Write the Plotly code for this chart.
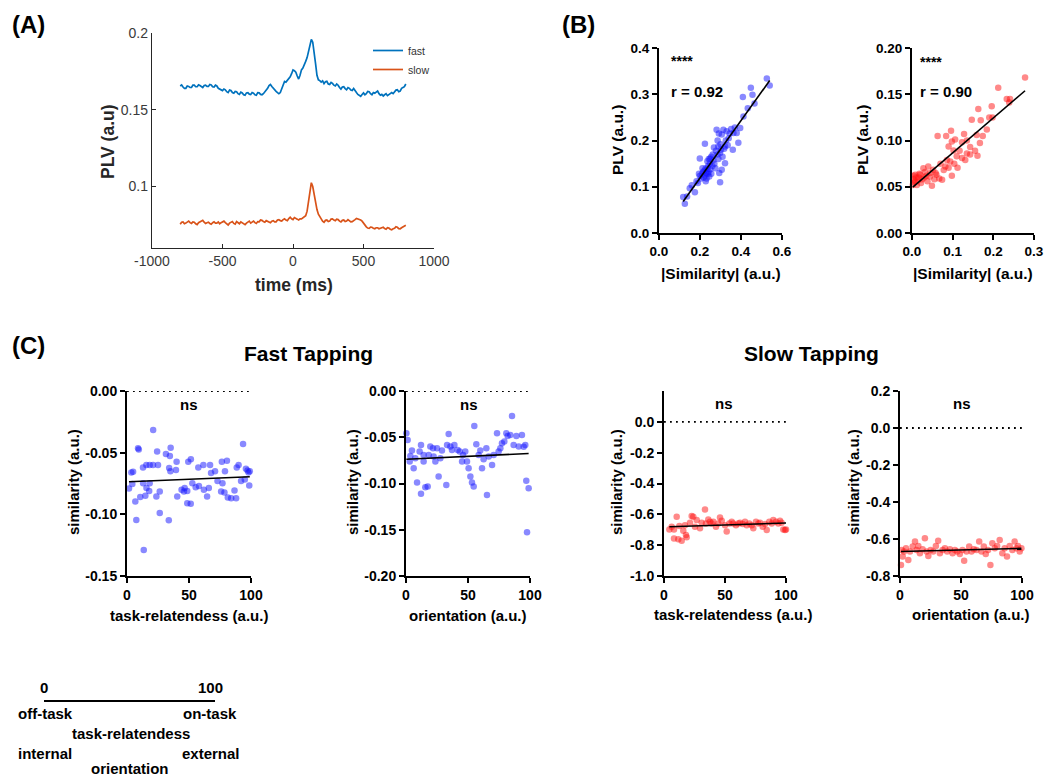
import numpy as np
import plotly.graph_objects as go

W, H = 1046, 776
FONT = "Liberation Sans, Arial, Helvetica, sans-serif"

# ---------------- DATA ----------------
# (A) PLV time courses (10 ms steps, -800 .. 800 ms)
time_ms = list(range(-800, 801, 10))
plv_fast_ts = [
    0.1655, 0.1662, 0.1648, 0.1640, 0.1640, 0.1655, 0.1652, 0.1645, 0.1645, 0.1660,
    0.1660, 0.1650, 0.1650, 0.1662, 0.1658, 0.1648, 0.1645, 0.1658, 0.1660, 0.1652,
    0.1652, 0.1665, 0.1662, 0.1650, 0.1648, 0.1660, 0.1655, 0.1640, 0.1635, 0.1628,
    0.1625, 0.1635, 0.1630, 0.1618, 0.1612, 0.1628, 0.1625, 0.1612, 0.1608, 0.1620,
    0.1618, 0.1605, 0.1600, 0.1615, 0.1610, 0.1598, 0.1595, 0.1610, 0.1612, 0.1602,
    0.1600, 0.1612, 0.1608, 0.1598, 0.1595, 0.1612, 0.1610, 0.1600, 0.1598, 0.1605,
    0.1615, 0.1630, 0.1640, 0.1658, 0.1665, 0.1652, 0.1640, 0.1628, 0.1620, 0.1612,
    0.1605, 0.1612, 0.1640, 0.1668, 0.1685, 0.1680, 0.1690, 0.1702, 0.1715, 0.1735,
    0.1760, 0.1755, 0.1745, 0.1720, 0.1700, 0.1725, 0.1760, 0.1772, 0.1800, 0.1815,
    0.1840, 0.1875, 0.1925, 0.1958, 0.1940, 0.1880, 0.1800, 0.1725, 0.1695, 0.1690,
    0.1680, 0.1688, 0.1670, 0.1682, 0.1685, 0.1668, 0.1665, 0.1678, 0.1672, 0.1660,
    0.1655, 0.1668, 0.1660, 0.1645, 0.1635, 0.1648, 0.1650, 0.1638, 0.1630, 0.1645,
    0.1640, 0.1628, 0.1625, 0.1638, 0.1628, 0.1612, 0.1600, 0.1592, 0.1588, 0.1600,
    0.1610, 0.1598, 0.1605, 0.1620, 0.1618, 0.1605, 0.1598, 0.1612, 0.1608, 0.1615,
    0.1622, 0.1605, 0.1595, 0.1600, 0.1590, 0.1598, 0.1605, 0.1592, 0.1598, 0.1608,
    0.1612, 0.1605, 0.1620, 0.1628, 0.1630, 0.1618, 0.1622, 0.1640, 0.1645, 0.1650,
    0.1668]
plv_slow_ts = [
    0.0755, 0.0768, 0.0770, 0.0758, 0.0762, 0.0772, 0.0775, 0.0765, 0.0760, 0.0770,
    0.0768, 0.0758, 0.0752, 0.0765, 0.0772, 0.0778, 0.0780, 0.0768, 0.0760, 0.0765,
    0.0768, 0.0760, 0.0755, 0.0765, 0.0770, 0.0762, 0.0762, 0.0770, 0.0758, 0.0765,
    0.0770, 0.0775, 0.0765, 0.0758, 0.0750, 0.0762, 0.0768, 0.0772, 0.0760, 0.0755,
    0.0772, 0.0765, 0.0758, 0.0770, 0.0765, 0.0758, 0.0752, 0.0762, 0.0768, 0.0775,
    0.0762, 0.0770, 0.0775, 0.0765, 0.0760, 0.0772, 0.0770, 0.0782, 0.0780, 0.0772,
    0.0768, 0.0778, 0.0775, 0.0768, 0.0765, 0.0775, 0.0778, 0.0770, 0.0770, 0.0782,
    0.0785, 0.0778, 0.0775, 0.0785, 0.0790, 0.0782, 0.0778, 0.0792, 0.0800, 0.0790,
    0.0785, 0.0798, 0.0795, 0.0788, 0.0782, 0.0790, 0.0790, 0.0798, 0.0800, 0.0810,
    0.0840, 0.0905, 0.0985, 0.1025, 0.1000, 0.0940, 0.0890, 0.0850, 0.0820, 0.0800,
    0.0790, 0.0775, 0.0768, 0.0780, 0.0782, 0.0772, 0.0775, 0.0788, 0.0790, 0.0782,
    0.0778, 0.0788, 0.0785, 0.0775, 0.0770, 0.0780, 0.0782, 0.0772, 0.0775, 0.0785,
    0.0780, 0.0770, 0.0772, 0.0782, 0.0785, 0.0792, 0.0790, 0.0788, 0.0782, 0.0775,
    0.0760, 0.0745, 0.0738, 0.0730, 0.0728, 0.0736, 0.0735, 0.0728, 0.0725, 0.0732,
    0.0732, 0.0725, 0.0728, 0.0736, 0.0735, 0.0726, 0.0722, 0.0732, 0.0730, 0.0722,
    0.0718, 0.0725, 0.0728, 0.0738, 0.0735, 0.0726, 0.0725, 0.0732, 0.0738, 0.0742,
    0.0748]

# (B) |similarity| vs PLV
sim_fast = [0.118, 0.126, 0.137, 0.150, 0.175, 0.183, 0.199, 0.224, 0.199, 0.205, 0.210, 0.215,
            0.218, 0.222, 0.225, 0.228, 0.230, 0.232, 0.235, 0.238, 0.240, 0.242, 0.245, 0.248,
            0.250, 0.255, 0.249, 0.260, 0.265, 0.270, 0.275, 0.281, 0.285, 0.289, 0.294, 0.298,
            0.298, 0.300, 0.302, 0.306, 0.306, 0.310, 0.314, 0.318, 0.322, 0.322, 0.326, 0.330,
            0.335, 0.340, 0.363, 0.379, 0.360, 0.387, 0.396, 0.409, 0.412, 0.433, 0.448, 0.456,
            0.466, 0.526, 0.540, 0.212, 0.228, 0.236, 0.262, 0.278, 0.290, 0.345, 0.352, 0.370,
            0.160, 0.190, 0.195, 0.243, 0.268, 0.286, 0.292, 0.255]
plv_fast = [0.078, 0.063, 0.079, 0.097, 0.088, 0.112, 0.161, 0.193, 0.123, 0.118, 0.128, 0.132,
            0.120, 0.135, 0.125, 0.140, 0.130, 0.118, 0.138, 0.128, 0.145, 0.132, 0.122, 0.150,
            0.138, 0.128, 0.161, 0.145, 0.158, 0.150, 0.140, 0.223, 0.170, 0.187, 0.130, 0.110,
            0.173, 0.192, 0.180, 0.213, 0.137, 0.165, 0.223, 0.182, 0.187, 0.151, 0.200, 0.220,
            0.190, 0.205, 0.216, 0.216, 0.180, 0.195, 0.227, 0.294, 0.252, 0.270, 0.314, 0.299,
            0.280, 0.334, 0.319, 0.140, 0.112, 0.155, 0.170, 0.178, 0.160, 0.215, 0.225, 0.228,
            0.103, 0.108, 0.128, 0.160, 0.185, 0.200, 0.215, 0.165]

sim_slow = [0.278, 0.212, 0.241, 0.239, 0.233, 0.163, 0.196, 0.190, 0.147, 0.063, 0.084, 0.096,
            0.128, 0.159, 0.174, 0.167, 0.143, 0.161, 0.135, 0.123, 0.098, 0.090, 0.102, 0.117,
            0.123, 0.131, 0.110, 0.094, 0.082, 0.090, 0.098, 0.074, 0.067, 0.052, 0.045, 0.035,
            0.028, 0.049, 0.020, 0.008, 0.004, 0.012, 0.022, 0.038, 0.055, 0.058, 0.040, 0.016,
            0.008, 0.025, 0.004, 0.002, 0.070, 0.078, 0.086, 0.104, 0.112, 0.135, 0.143, 0.155,
            0.106, 0.169, 0.184, 0.198, 0.010, 0.015, 0.030, 0.032, 0.044, 0.060, 0.006, 0.018]
plv_slow = [0.168, 0.157, 0.145, 0.141, 0.145, 0.134, 0.137, 0.125, 0.1225, 0.105, 0.105, 0.1106,
            0.107, 0.106, 0.105, 0.0973, 0.093, 0.0836, 0.100, 0.098, 0.099, 0.0936, 0.0893, 0.089,
            0.081, 0.079, 0.083, 0.0774, 0.072, 0.0705, 0.062, 0.0576, 0.059, 0.0684, 0.065, 0.062,
            0.070, 0.051, 0.063, 0.063, 0.058, 0.052, 0.054, 0.056, 0.058, 0.065, 0.072, 0.060,
            0.056, 0.058, 0.062, 0.052, 0.075, 0.068, 0.079, 0.075, 0.0705, 0.086, 0.085, 0.089,
            0.101, 0.122, 0.112, 0.125, 0.060, 0.057, 0.060, 0.066, 0.061, 0.063, 0.055, 0.064]

# (C) Fast tapping
fast_task = [1.6, 3.5, 21.1, 8.9, 9.5, 24.3, 31.4, 34.6, 35.2, 40.0, 93.6, 4.9, 12.9, 15.6, 18.3,
             21.0, 25.0, 34.0, 35.0, 39.5, 49.4, 51.5, 57.5, 61.6, 67.0, 76.5, 80.6, 67.8, 71.0,
             79.0, 88.5, 90.0, 95.9, 97.2, 98.6, 4.3, 13.0, 15.7, 17.9, 18.3, 23.7, 26.4, 6.7,
             10.7, 14.8, 7.5, 26.4, 33.7, 13.5, 40.5, 45.9, 48.6, 44.0, 46.5, 48.6, 51.4, 52.7,
             55.4, 58.0, 62.0, 66.0, 73.0, 77.0, 75.9, 78.6, 81.3, 84.0, 88.0, 86.7, 92.0, 95.0,
             64.6, 98.0, 99.0]
fast_task_sim = [-0.079, -0.066, -0.0316, -0.0465, -0.0475, -0.049, -0.051, -0.0527, -0.046, -0.0573,
                 -0.043, -0.0654, -0.062, -0.060, -0.060, -0.060, -0.060, -0.0625, -0.065, -0.064,
                 -0.0573, -0.0554, -0.062, -0.060, -0.060, -0.0573, -0.0565, -0.0664, -0.065, -0.065,
                 -0.062, -0.060, -0.063, -0.0645, -0.0766, -0.0755, -0.0747, -0.0786, -0.081, -0.0747,
                 -0.0855, -0.0815, -0.0896, -0.086, -0.085, -0.1045, -0.099, -0.1048, -0.129, -0.0855,
                 -0.0815, -0.081, -0.080, -0.0786, -0.091, -0.0915, -0.0747, -0.078, -0.077, -0.080,
                 -0.0786, -0.073, -0.0747, -0.0815, -0.0823, -0.0864, -0.087, -0.087, -0.0807, -0.073,
                 -0.0718, -0.0855, -0.066, -0.065]

fast_orient = [0.3, 1.3, 4.8, 3.5, 3.0, 6.2, 12.1, 11.0, 7.5, 14.2, 8.9, 12.1, 15.6, 17.5, 14.2,
               19.6, 18.3, 21.8, 22.3, 23.7, 25.0, 27.7, 26.3, 29.0, 32.5, 34.4, 33.1, 35.8, 39.0,
               37.1, 41.7, 43.3, 45.2, 46.0, 47.8, 49.2, 50.5, 51.9, 53.2, 54.6, 55.1, 56.7, 58.6,
               59.9, 61.3, 62.6, 65.3, 64.8, 66.7, 69.4, 70.7, 73.4, 74.7, 76.1, 77.4, 79.3, 80.9,
               82.0, 84.1, 85.5, 86.8, 89.0, 90.9, 93.5, 94.9, 96.2, 97.0, 98.9, 97.6]
fast_orient_sim = [-0.0457, -0.0529, -0.0644, -0.0702, -0.0763, -0.0835, -0.0583, -0.0655, -0.0727,
                   -0.0691, -0.099, -0.1112, -0.104, -0.1033, -0.0763, -0.0601, -0.0691, -0.0619,
                   -0.0709, -0.0763, -0.0619, -0.0727, -0.0925, -0.0644, -0.1015, -0.0464, -0.0583,
                   -0.0601, -0.0583, -0.0637, -0.0637, -0.0655, -0.0763, -0.0691, -0.0655, -0.0763,
                   -0.0835, -0.0925, -0.099, -0.1033, -0.0378, -0.0576, -0.0691, -0.0644, -0.0835,
                   -0.0738, -0.1123, -0.0619, -0.0709, -0.0799, -0.0691, -0.0457, -0.0655, -0.0619,
                   -0.0565, -0.0547, -0.0457, -0.0486, -0.0475, -0.027, -0.0583, -0.0486, -0.0601,
                   -0.0476, -0.0602, -0.0584, -0.097, -0.105, -0.1528]

# (C) Slow tapping
slow_task = [4.4, 6.3, 8.2, 8.2, 10.4, 11.7, 14.5, 12.6, 15.8, 17.2, 18.0, 18.6, 21.3, 22.7, 24.0,
             25.4, 26.8, 29.5, 30.9, 33.6, 34.4, 36.3, 37.7, 39.1, 40.4, 42.6, 44.5, 45.9, 47.3,
             50.0, 51.4, 53.6, 55.5, 56.8, 59.0, 60.9, 62.3, 64.5, 66.4, 67.8, 69.9, 71.9, 73.2,
             75.4, 77.3, 78.7, 80.9, 82.8, 84.2, 86.3, 88.3, 89.6, 91.8, 93.7, 95.1, 96.4, 97.8,
             99.2, 100.0]
slow_task_sim = [-0.698, -0.680, -0.698, -0.756, -0.616, -0.762, -0.771, -0.676, -0.706, -0.670,
                 -0.734, -0.749, -0.654, -0.611, -0.616, -0.680, -0.637, -0.691, -0.654, -0.568,
                 -0.659, -0.633, -0.648, -0.659, -0.648, -0.680, -0.659, -0.620, -0.641, -0.670,
                 -0.711, -0.659, -0.648, -0.659, -0.670, -0.659, -0.654, -0.663, -0.648, -0.670,
                 -0.659, -0.670, -0.691, -0.648, -0.659, -0.654, -0.680, -0.663, -0.702, -0.648,
                 -0.659, -0.637, -0.648, -0.659, -0.641, -0.654, -0.698, -0.702, -0.698]

slow_orient = [0.8, 2.2, 1.4, 3.3, 4.9, 6.8, 8.2, 10.4, 12.3, 13.6, 15.0, 16.3, 18.5, 20.4, 21.8,
               23.2, 25.1, 27.2, 29.4, 31.3, 32.7, 34.9, 36.8, 38.7, 40.9, 43.1, 45.0, 46.9, 49.0,
               51.2, 52.6, 54.5, 56.7, 58.6, 60.5, 62.7, 64.9, 66.8, 68.7, 70.3, 72.2, 74.1, 75.7,
               77.7, 79.6, 81.7, 83.9, 85.8, 87.7, 89.9, 92.1, 94.0, 95.4, 96.7, 98.1, 99.5]
slow_orient_sim = [-0.741, -0.695, -0.659, -0.668, -0.650, -0.714, -0.668, -0.641, -0.614, -0.659,
                   -0.638, -0.677, -0.656, -0.596, -0.668, -0.692, -0.659, -0.668, -0.638, -0.609,
                   -0.677, -0.659, -0.650, -0.668, -0.656, -0.677, -0.659, -0.668, -0.681, -0.659,
                   -0.717, -0.668, -0.641, -0.668, -0.656, -0.659, -0.614, -0.668, -0.641, -0.681,
                   -0.659, -0.741, -0.623, -0.650, -0.638, -0.605, -0.677, -0.650, -0.695, -0.638,
                   -0.659, -0.614, -0.650, -0.638, -0.668, -0.650]

# tick labels
A_xticks = [-1000, -500, 0, 500, 1000]
A_xlabels = ["-1000", "-500", "0", "500", "1000"]
A_yticks = [0.1, 0.15, 0.2]
A_ylabels = ["0.1", "0.15", "0.2"]
B1_xticks = [0, 0.2, 0.4, 0.6]
B1_xlabels = ["0.0", "0.2", "0.4", "0.6"]
B1_yticks = [0, 0.1, 0.2, 0.3, 0.4]
B1_ylabels = ["0.0", "0.1", "0.2", "0.3", "0.4"]
B2_xticks = [0, 0.1, 0.2, 0.3]
B2_xlabels = ["0.0", "0.1", "0.2", "0.3"]
B2_yticks = [0, 0.05, 0.1, 0.15, 0.2]
B2_ylabels = ["0.00", "0.05", "0.10", "0.15", "0.20"]
C_xticks = [0, 50, 100]
C_xlabels = ["0", "50", "100"]
C1_yticks = [0, -0.05, -0.1, -0.15]
C1_ylabels = ["0.00", "-0.05", "-0.10", "-0.15"]
C2_yticks = [0, -0.05, -0.1, -0.15, -0.2]
C2_ylabels = ["0.00", "-0.05", "-0.10", "-0.15", "-0.20"]
C3_yticks = [0, -0.2, -0.4, -0.6, -0.8, -1.0]
C3_ylabels = ["0.0", "-0.2", "-0.4", "-0.6", "-0.8", "-1.0"]
C4_yticks = [0.2, 0, -0.2, -0.4, -0.6, -0.8]
C4_ylabels = ["0.2", "0.0", "-0.2", "-0.4", "-0.6", "-0.8"]

assert len(time_ms) == len(plv_fast_ts) == len(plv_slow_ts)

# ---------------- FIGURE ----------------
BLUE_M = "rgba(20,20,255,0.5)"
RED_M = "rgba(255,20,20,0.5)"


def px_x(a):
    return a / W


def px_y(b):
    return 1 - b / H


def xd(a, b):
    return [a / W, b / W]


def yd(top, bottom):
    return [1 - bottom / H, 1 - top / H]


fig = go.Figure()

# (A)
fig.add_trace(go.Scatter(x=time_ms, y=plv_fast_ts, mode="lines", name="fast",
                         line=dict(color="#0072BD", width=1.7), xaxis="x", yaxis="y"))
fig.add_trace(go.Scatter(x=time_ms, y=plv_slow_ts, mode="lines", name="slow",
                         line=dict(color="#D95319", width=1.7), xaxis="x", yaxis="y"))


def scatter_fit(x, y, color, xa, ya):
    fig.add_trace(go.Scatter(x=x, y=y, mode="markers", showlegend=False, cliponaxis=False,
                             marker=dict(color=color, size=6.5, line=dict(width=0)),
                             xaxis=xa, yaxis=ya))
    k, b = np.polyfit(x, y, 1)
    x0, x1 = min(x), max(x)
    fig.add_trace(go.Scatter(x=[x0, x1], y=[k * x0 + b, k * x1 + b], mode="lines",
                             showlegend=False, cliponaxis=False,
                             line=dict(color="black", width=1.6), xaxis=xa, yaxis=ya))


scatter_fit(sim_fast, plv_fast, BLUE_M, "x2", "y2")
scatter_fit(sim_slow, plv_slow, RED_M, "x3", "y3")

for xa, ya in [("x4", "y4"), ("x5", "y5"), ("x6", "y6"), ("x7", "y7")]:
    fig.add_trace(go.Scatter(x=[0, 100], y=[0, 0], mode="lines", showlegend=False,
                             line=dict(color="black", width=1.8, dash="1.8px,4.2px"),
                             xaxis=xa, yaxis=ya))

scatter_fit(fast_task, fast_task_sim, BLUE_M, "x4", "y4")
scatter_fit(fast_orient, fast_orient_sim, BLUE_M, "x5", "y5")
scatter_fit(slow_task, slow_task_sim, RED_M, "x6", "y6")
scatter_fit(slow_orient, slow_orient_sim, RED_M, "x7", "y7")

matlab_ax = dict(showline=True, linecolor="#262626", linewidth=1.3, ticks="inside", ticklen=4,
                 tickwidth=1.3, tickcolor="#262626", showgrid=False, zeroline=False,
                 automargin=False,
                 tickfont=dict(family=FONT, size=14, color="#3a3a3a"))
prism_b = dict(showline=True, linecolor="black", linewidth=2, ticks="outside", ticklen=5,
               tickwidth=2, tickcolor="black", showgrid=False, zeroline=False,
               automargin=False,
               tickfont=dict(family=FONT, size=13.5, color="black", weight="bold"))
prism_c = dict(prism_b)
prism_c["tickfont"] = dict(family=FONT, size=14, color="black", weight="bold")


def ax(style, dom, rng, tv, tt, anchor, **kw):
    d = dict(style)
    d.update(domain=dom, range=rng, tickvals=tv, ticktext=tt, anchor=anchor, **kw)
    return d


layout = dict(
    template="none",
    width=W, height=H, autosize=False,
    margin=dict(l=0, r=0, t=0, b=0, pad=0, autoexpand=False),
    paper_bgcolor="white", plot_bgcolor="rgba(0,0,0,0)",
    font=dict(family=FONT, color="black"),
    showlegend=True,
    legend=dict(x=px_x(368), y=px_y(36), xanchor="left", yanchor="top",
                bgcolor="rgba(0,0,0,0)", borderwidth=0,
                font=dict(family=FONT, size=10.5, color="#333"),
                itemwidth=30, tracegroupgap=0),
    xaxis=ax(matlab_ax, xd(152, 434), [-1000, 1000], A_xticks, A_xlabels, "y"),
    yaxis=ax(matlab_ax, yd(33, 248), [0.06, 0.2], A_yticks, A_ylabels, "x"),
    xaxis2=ax(prism_b, xd(659, 782), [0, 0.6], B1_xticks, B1_xlabels, "y2"),
    yaxis2=ax(prism_b, yd(48, 233), [0, 0.4], B1_yticks, B1_ylabels, "x2"),
    xaxis3=ax(prism_b, xd(912, 1034), [0, 0.3], B2_xticks, B2_xlabels, "y3"),
    yaxis3=ax(prism_b, yd(48, 233), [0, 0.2], B2_yticks, B2_ylabels, "x3"),
    xaxis4=ax(prism_c, xd(127, 251), [0, 100], C_xticks, C_xlabels, "y4"),
    yaxis4=ax(prism_c, yd(391, 576), [-0.15, 0], C1_yticks, C1_ylabels, "x4"),
    xaxis5=ax(prism_c, xd(406, 530), [0, 100], C_xticks, C_xlabels, "y5"),
    yaxis5=ax(prism_c, yd(391, 576), [-0.2, 0], C2_yticks, C2_ylabels, "x5"),
    xaxis6=ax(prism_c, xd(664, 786), [0, 100], C_xticks, C_xlabels, "y6"),
    yaxis6=ax(prism_c, yd(391, 576), [-1.0, 0.2], C3_yticks, C3_ylabels, "x6"),
    xaxis7=ax(prism_c, xd(900, 1022), [0, 100], C_xticks, C_xlabels, "y7"),
    yaxis7=ax(prism_c, yd(391, 576), [-0.8, 0.2], C4_yticks, C4_ylabels, "x7"),
)

ann = []


def text(x, y, s, size, bold=True, angle=0, xanchor="center", color="black"):
    ann.append(dict(x=px_x(x), y=px_y(y), xref="paper", yref="paper", text=s, showarrow=False,
                    textangle=angle, xanchor=xanchor, yanchor="middle",
                    font=dict(family=FONT, size=size, color=color,
                              weight="bold" if bold else "normal")))


# panel labels
text(10, 25, "(A)", 24, xanchor="left")
text(560, 25, "(B)", 24, xanchor="left")
text(10, 345, "(C)", 24, xanchor="left")
# A titles
text(108, 142, "PLV (a.u)", 17.5, angle=-90, color="#262626")
text(294, 285, "time (ms)", 17.5, color="#262626")
# B titles
text(617, 140, "PLV (a.u.)", 15.5, angle=-90)
text(721, 273, "|Similarity| (a.u.)", 15.5)
text(862, 140, "PLV (a.u.)", 15.5, angle=-90)
text(973, 273, "|Similarity| (a.u.)", 15.5)
text(669, 61, "****", 14, xanchor="left")
text(669, 91, "r = 0.92", 15, xanchor="left")
text(918, 62, "****", 14, xanchor="left")
text(918, 91, "r = 0.90", 15, xanchor="left")
# C titles
text(308, 354, "Fast Tapping", 21)
text(811, 354, "Slow Tapping", 21)
text(73, 482, "similarity (a.u.)", 15, angle=-90)
text(352, 482, "similarity (a.u.)", 15, angle=-90)
text(616, 482, "similarity (a.u.)", 15, angle=-90)
text(853, 482, "similarity (a.u.)", 15, angle=-90)
text(189, 615, "task-relatendess (a.u.)", 15)
text(468, 615, "orientation (a.u.)", 15)
text(733, 614, "task-relatendess (a.u.)", 15)
text(971, 614, "orientation (a.u.)", 15)
for xx, yy in [(189, 404), (469, 404), (724, 403), (962, 403)]:
    text(xx, yy, "ns", 15)
# schematic
text(44, 687, "0", 15)
text(210, 687, "100", 15)
text(16, 713, "off-task", 15, xanchor="left")
text(239, 713, "on-task", 15, xanchor="right")
text(131, 733, "task-relatendess", 15)
text(16, 753, "internal", 15, xanchor="left")
text(242, 753, "external", 15, xanchor="right")
text(130, 768, "orientation", 15)

layout["annotations"] = ann
layout["shapes"] = [dict(type="line", xref="paper", yref="paper", x0=px_x(44), x1=px_x(215),
                         y0=px_y(701), y1=px_y(701), line=dict(color="black", width=2))]

fig.update_layout(**layout)
fig.write_html(
    "out.html",
    post_script="document.body.style.margin='0';"
                "document.documentElement.style.overflow='hidden';"
                "document.body.style.overflow='hidden';",
)
